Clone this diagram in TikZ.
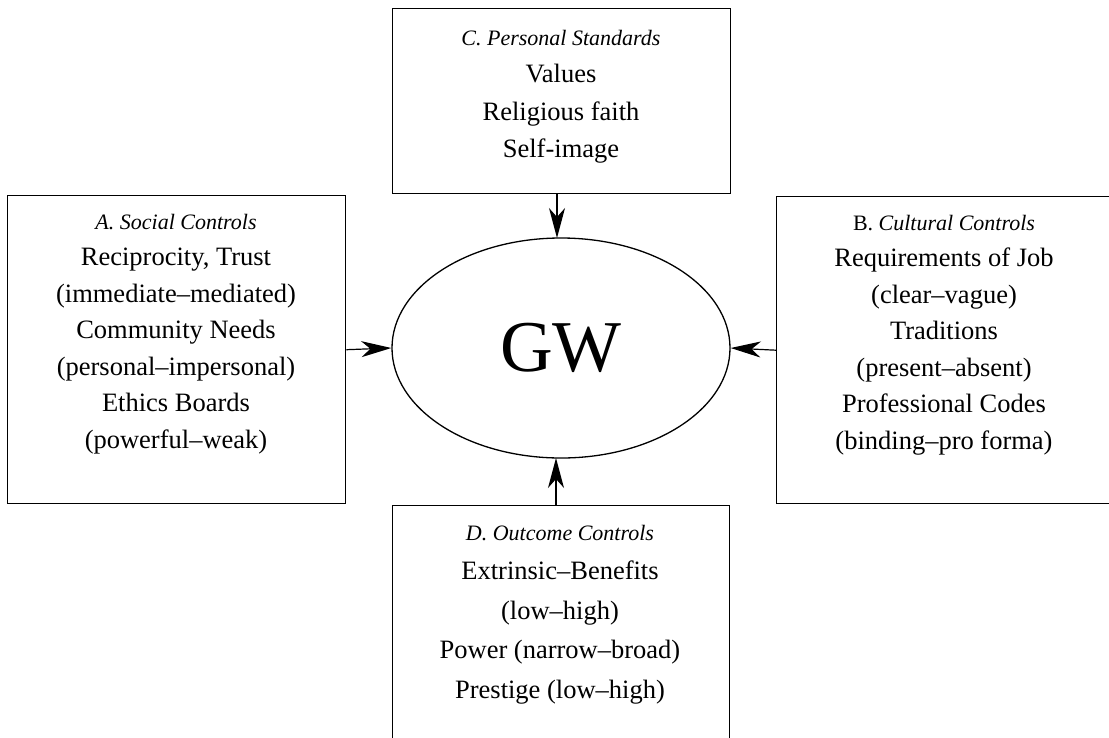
\documentclass[tikz,border=0pt]{standalone}
\usepackage{fontspec}
\setmainfont{Liberation Serif}
\usetikzlibrary{shapes.geometric,arrows.meta}
\begin{document}
\begin{tikzpicture}[x=1pt,y=-1pt,
  ctrlbox/.style={draw,line width=1.4pt,rectangle,inner sep=0pt,anchor=north west},
  boxtext/.style={align=center,inner sep=0pt,anchor=north,
    font=\fontsize{26.5}{36.5}\selectfont},
  feed/.style={line width=1.2pt,-{Stealth[length=30pt,width=16pt,inset=9pt]}}]
  \useasboundingbox (0,0) rectangle (1109,737);
  \clip (0,0) rectangle (1109,737);

  % the four groups of controls
  \node[ctrlbox,minimum width=338pt,minimum height=308pt] (boxA) at (7,195) {};
  \node[ctrlbox,minimum width=337pt,minimum height=307pt] (boxB) at (776,196) {};
  \node[ctrlbox,minimum width=338pt,minimum height=185pt] (boxC) at (392,8) {};
  \node[ctrlbox,minimum width=337pt,minimum height=280pt] (boxD) at (392,505) {};

  % central ellipse
  \node[draw,ellipse,line width=1.3pt,minimum width=338pt,minimum height=220pt,
        inner sep=0pt,font=\fontsize{73}{80}\selectfont] (gw) at (561,348) {GW};

  % box texts
  \node[boxtext] (textA) at (176,214) {{\fontsize{22}{26}\selectfont\itshape A. Social Controls}\\
    Reciprocity, Trust\\(immediate--mediated)\\Community Needs\\
    (personal--impersonal)\\Ethics Boards\\(powerful--weak)};
  \node[boxtext] (textB) at (944,215) {{\fontsize{22}{26}\selectfont B.\ \itshape Cultural Controls}\\
    Requirements of Job\\(clear--vague)\\Traditions\\
    (present--absent)\\Professional Codes\\(binding--pro forma)};
  \node[boxtext,font=\fontsize{26.5}{37.5}\selectfont] (textC) at (561,30) {{\fontsize{22}{26}\selectfont\itshape C. Personal Standards}\\
    Values\\Religious faith\\Self-image};
  \node[boxtext,font=\fontsize{26.5}{39.5}\selectfont] (textD) at (560,525) {{\fontsize{22}{26}\selectfont\itshape D. Outcome Controls}\\
    Extrinsic--Benefits\\(low--high)\\Power (narrow--broad)\\Prestige (low--high)};

  % influences on GW
  \draw[feed] (boxA.east) -- (gw.west);
  \draw[feed] (boxB.west) -- (gw.east);
  \draw[feed] (boxC.south -| 557,0) -- (557,238);
  \draw[feed] (boxD.north -| 556,0) -- (556,458);
\end{tikzpicture}
\end{document}
